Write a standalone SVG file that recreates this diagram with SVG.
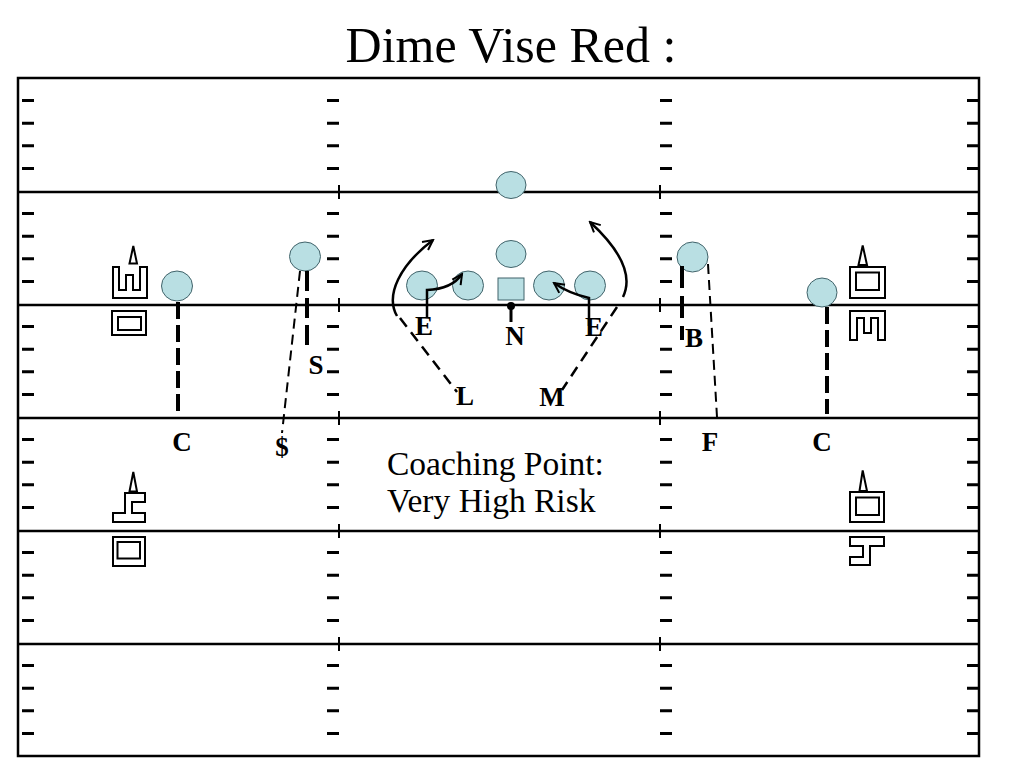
<svg xmlns="http://www.w3.org/2000/svg" width="1024" height="768" viewBox="0 0 1024 768">
<style>
.fld{stroke:#000;stroke-width:2.5;fill:none}
.hash{stroke:#000;stroke-width:3;fill:none}
.tick{stroke:#000;stroke-width:2;fill:none}
.num{stroke:#000;stroke-width:2;fill:#fff}
.pl{fill:#b9dfe3;stroke:#41636a;stroke-width:1}
.lbl{font-family:"Liberation Serif","Times New Roman",serif;font-weight:bold;font-size:27px;text-anchor:middle;fill:#000}
.thick{stroke:#000;stroke-width:4;fill:none}
.thin{stroke:#000;stroke-width:2;fill:none;stroke-dasharray:10 6}
.route{stroke:#000;stroke-width:2.5;fill:none;marker-end:url(#ah)}
.dash{stroke:#000;stroke-width:2.5;fill:none;stroke-dasharray:11 7}
</style>
<defs>
<marker id="ah" viewBox="-11 -7 13 14" refX="0" refY="0" markerWidth="13" markerHeight="14" markerUnits="userSpaceOnUse" orient="auto">
<path d="M-10,-5 L0,0 L-10,5" stroke="#000" stroke-width="2" fill="none"/>
</marker>
<path id="hashes" class="hash" d="M0,100.6h12M0,123.2h12M0,145.8h12M0,168.4h12M0,213.6h12M0,236.2h12M0,258.8h12M0,281.4h12M0,326.6h12M0,349.2h12M0,371.8h12M0,394.4h12M0,439.6h12M0,462.2h12M0,484.8h12M0,507.4h12M0,552.6h12M0,575.2h12M0,597.8h12M0,620.4h12M0,665.6h12M0,688.2h12M0,710.8h12M0,733.4h12"/>
<path id="ticks" class="tick" d="M0,185v14M0,298v14M0,411v14M0,524v14M0,637v14"/>
</defs>
<rect width="1024" height="768" fill="#fff"/>
<text x="511" y="62" font-family="'Liberation Serif','Times New Roman',serif" font-size="50" text-anchor="middle" fill="#000">Dime Vise Red :</text>
<g id="field">
<rect class="fld" x="18" y="78" width="961" height="678"/>
<path class="fld" d="M18,192H979M18,305H979M18,418H979M18,531H979M18,644H979"/>
<use href="#hashes" x="22"/>
<use href="#hashes" x="327"/>
<use href="#hashes" x="660"/>
<use href="#hashes" x="967"/>
<use href="#ticks" x="339"/>
<use href="#ticks" x="660"/>
</g>
<g id="yard-numbers">
<path class="num" d="M129.5,263.5 L133.3,246 L137,263.5 Z"/>
<path class="num" d="M113,267 H119 V290 H126 V275 H133 V290 H140 V267 H147 V298 H113 Z"/>
<rect class="num" x="112" y="311" width="34" height="24"/>
<rect class="num" x="118" y="317" width="23" height="13"/>
<path class="num" d="M858.5,265 L862.7,245.5 L867,265 Z"/>
<rect class="num" x="850" y="267" width="35" height="31"/>
<rect class="num" x="856" y="272.5" width="23" height="17.5"/>
<path class="num" d="M850,311 H885 V340 H878 V318 H871 V333 H864 V318 H857 V340 H850 Z"/>
<path class="num" d="M129.5,491.5 L133.3,472 L137,491.5 Z"/>
<path class="num" d="M125,493 H145 V502 H132 V513 H145 V522 H113 V513 H125 Z"/>
<rect class="num" x="113" y="537" width="32" height="29"/>
<rect class="num" x="117.5" y="542" width="22.5" height="16.5"/>
<path class="num" d="M859.5,491 L862.7,470.5 L867,491 Z"/>
<rect class="num" x="850" y="492" width="34" height="30"/>
<rect class="num" x="856" y="497.5" width="23" height="17.5"/>
<path class="num" d="M850,537 H884 V546 H870 V565 H850 V557 H863 V546 H850 Z"/>
</g>
<g id="offense">
<ellipse id="o-top" class="pl" cx="511" cy="185" rx="15" ry="13.5"/>
<ellipse id="o-back" class="pl" cx="511" cy="254" rx="15" ry="13.5"/>
<ellipse id="o-t1" class="pl" cx="422" cy="285.5" rx="15.5" ry="14.5"/>
<ellipse id="o-g1" class="pl" cx="468" cy="285.5" rx="15.5" ry="14.5"/>
<rect id="o-c" class="pl" x="498" y="278" width="26" height="22"/>
<ellipse id="o-g2" class="pl" cx="549" cy="285.5" rx="15.5" ry="14.5"/>
<ellipse id="o-t2" class="pl" cx="590" cy="285.5" rx="15.5" ry="14.5"/>
<ellipse id="o-wl" class="pl" cx="177" cy="286" rx="15.5" ry="15"/>
<ellipse id="o-sl" class="pl" cx="305" cy="256.5" rx="15.5" ry="14.5"/>
<ellipse id="o-sr" class="pl" cx="692.5" cy="257" rx="15.5" ry="15"/>
<ellipse id="o-wr" class="pl" cx="822" cy="292.5" rx="15" ry="14.5"/>
</g>
<g id="connectors">
<path class="thick" d="M178,302V415" stroke-dasharray="17 6"/>
<path class="thick" d="M307,271V350" stroke-dasharray="20 7"/>
<path class="thin" d="M300,271L282,433"/>
<path class="thick" d="M682,266V340" stroke-dasharray="22 8"/>
<path class="thin" d="M708,264L717,417"/>
<path class="thick" d="M827,307V414" stroke-dasharray="17 6"/>
<path class="dash" d="M400,318L457,392"/>
<path class="dash" d="M617,307L562,390"/>
<path class="route" d="M397,316 C385,295 400,265 433,240"/>
<path class="route" d="M623,297 C635,272 615,245 590,222"/>
<path class="route" d="M427,318 V290 Q452,289 462,274"/>
<path class="route" d="M589,326 V298 Q568,293 554,283"/>
<path stroke="#000" stroke-width="3" d="M511,306V322"/>
<circle cx="511" cy="306" r="4" fill="#000"/>
</g>
<g id="defense">
<text class="lbl" x="182" y="451">C</text>
<text class="lbl" x="282" y="456">$</text>
<text class="lbl" x="316" y="374">S</text>
<text class="lbl" x="424" y="335">E</text>
<text class="lbl" x="515" y="345">N</text>
<text class="lbl" x="594" y="336">E</text>
<text class="lbl" x="465" y="405">L</text>
<text class="lbl" x="552" y="406">M</text>
<text class="lbl" x="694" y="347">B</text>
<text class="lbl" x="710" y="451">F</text>
<text class="lbl" x="822" y="451">C</text>
</g>
<g id="note" font-family="'Liberation Serif','Times New Roman',serif" font-size="33.5" fill="#000">
<text x="387" y="475">Coaching Point:</text>
<text x="387" y="512">Very High Risk</text>
</g>
</svg>
